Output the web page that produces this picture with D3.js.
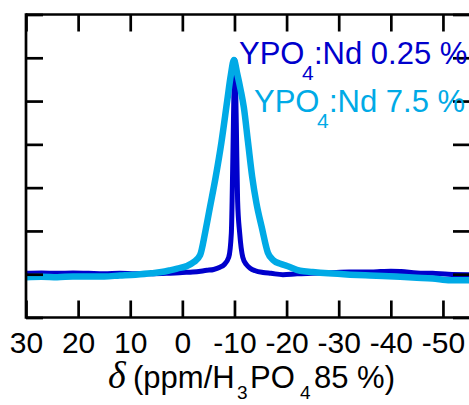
<!DOCTYPE html>
<html><head><meta charset="utf-8">
<script src="https://cdn.jsdelivr.net/npm/d3@7"></script>
<style>
html,body{margin:0;padding:0;background:#fff;}
svg{display:block;}
text{font-family:"Liberation Sans",Arial,sans-serif;}
</style></head>
<body>
<svg id="chart" width="469" height="405"></svg>
<script>
// x ticks (ppm)
const xTicks = [30, 20, 10, 0, -10, -20, -30, -40, -50];
const yTicks = [-1, 0, 1, 2, 3, 4, 5, 6];

// YPO4:Nd 0.25 % (dark blue) : chemical shift (ppm) and intensity
const darkPpm = [30, 27, 24, 21, 18, 15, 12, 9, 6, 3, 0, -2, -4.7, -6, -7.2, -8.0, -8.9, -9.4, -9.55, -9.8, -10.05, -10.35, -10.6, -11.0, -11.6, -12.3, -13, -14, -15.5, -17, -19.3, -22, -25, -28, -32, -35, -38, -40, -42, -45, -48, -51, -55];
const darkInt = [0.02, 0.03, 0.02, 0.03, 0.02, 0.01, 0.02, 0.01, 0.01, 0.02, 0.04, 0.05, 0.09, 0.11, 0.16, 0.22, 0.39, 0.95, 1.7, 3.5, 4.95, 3.5, 1.7, 0.95, 0.39, 0.22, 0.14, 0.08, 0.04, 0.02, -0.01, 0.01, 0.02, 0.03, 0.05, 0.05, 0.06, 0.07, 0.06, 0.03, 0.02, 0.0, -0.01];

// YPO4:Nd 7.5 % (light blue)
const lightPpm = [30, 27, 24, 21, 18, 15, 12, 9, 6, 4, 2.4, 1, -0.9, -2.2, -3.4, -4.4, -5.3, -6.4, -7.5, -8.6, -9.3, -9.9, -10.5, -11.2, -11.8, -12.6, -13.4, -14.2, -15.3, -16.4, -17.4, -18.8, -20.1, -22.6, -25, -28, -32.2, -36, -41.8, -45, -48, -51.4, -55];
const lightInt = [-0.07, -0.06, -0.07, -0.05, -0.05, -0.05, -0.03, -0.01, 0.02, 0.05, 0.09, 0.13, 0.19, 0.28, 0.44, 0.98, 1.55, 2.25, 3.05, 4.0, 4.6, 4.95, 4.65, 4.25, 3.85, 3.05, 2.25, 1.65, 1.05, 0.5, 0.33, 0.24, 0.19, 0.08, 0.05, 0.02, -0.01, -0.03, -0.06, -0.08, -0.1, -0.14, -0.14];

const svg = d3.select("#chart");
const x = d3.scaleLinear().domain([30, -55]).range([26, 469]);
const y = d3.scaleLinear().domain([-1, 6]).range([317.5, 14.5]);

const darkColor = "#0000cc";
const lightColor = "#00aae6";

const line = d3.line().x(d => x(d[0])).y(d => y(d[1])).curve(d3.curveMonotoneX);

svg.append("path")
  .datum(darkPpm.map((p, i) => [p, darkInt[i]]))
  .attr("d", line).attr("fill", "none")
  .attr("stroke", darkColor).attr("stroke-width", 5).attr("stroke-linejoin", "round");

svg.append("path")
  .datum(lightPpm.map((p, i) => [p, lightInt[i]]))
  .attr("d", line).attr("fill", "none")
  .attr("stroke", lightColor).attr("stroke-width", 6.5).attr("stroke-linejoin", "round");

// frame
const fw = 2.7;
svg.append("line").attr("x1", 26).attr("x2", 469).attr("y1", y(6)).attr("y2", y(6)).attr("stroke", "#000").attr("stroke-width", fw);
svg.append("line").attr("x1", 26).attr("x2", 469).attr("y1", y(-1)).attr("y2", y(-1)).attr("stroke", "#000").attr("stroke-width", fw);
svg.append("line").attr("x1", 26).attr("x2", 26).attr("y1", y(6) - fw/2).attr("y2", y(-1) + fw/2).attr("stroke", "#000").attr("stroke-width", fw);

// axes with inward ticks
const tickLen = 17;
const bottomAxis = d3.axisBottom(x).tickValues(xTicks).tickSize(-tickLen).tickFormat(d => String(d));
const gB = svg.append("g").attr("transform", `translate(0,${y(-1)})`).call(bottomAxis);
gB.select(".domain").remove();
gB.selectAll(".tick line").attr("stroke", "#000").attr("stroke-width", fw);
gB.selectAll(".tick text").attr("font-size", 30).attr("fill", "#000")
  .attr("font-family", "'Liberation Sans', Arial, sans-serif").attr("dy", 0).attr("y", 35.5);

const topAxis = d3.axisTop(x).tickValues(xTicks).tickSize(-tickLen).tickFormat("");
const gT = svg.append("g").attr("transform", `translate(0,${y(6)})`).call(topAxis);
gT.select(".domain").remove();
gT.selectAll(".tick line").attr("stroke", "#000").attr("stroke-width", fw);

const leftAxis = d3.axisLeft(y).tickValues(yTicks).tickSize(-tickLen).tickFormat("");
const gL = svg.append("g").attr("transform", `translate(26,0)`).call(leftAxis);
gL.select(".domain").remove();
gL.selectAll(".tick line").attr("stroke", "#000").attr("stroke-width", fw);

const rightAxis = d3.axisRight(y).tickValues(yTicks).tickSize(-tickLen).tickFormat("");
const gR = svg.append("g").attr("transform", `translate(470,0)`).call(rightAxis);
gR.select(".domain").remove();
gR.selectAll(".tick line").attr("stroke", "#000").attr("stroke-width", fw);

// legend texts
function legend(x0, yb, subX, restX, rest, color) {
  const t = svg.append("text").attr("fill", color).attr("font-size", 31);
  t.append("tspan").attr("x", x0).attr("y", yb).text("YPO");
  t.append("tspan").attr("x", subX).attr("y", yb + 16).attr("font-size", 21).text("4");
  t.append("tspan").attr("x", restX).attr("y", yb).text(rest);
}
legend(239, 64, 302, 314, ":Nd 0.25 %", darkColor);
legend(254, 112, 317, 329, ":Nd 7.5 %", lightColor);

// x axis title
const title = svg.append("text").attr("fill", "#000").attr("font-size", 31);
title.append("tspan").attr("x", 108).attr("y", 388).attr("font-family", "'Liberation Serif','Times New Roman',serif")
  .attr("font-style", "italic").attr("font-size", 38).text("δ");
title.append("tspan").attr("x", 133).attr("y", 388).text("(ppm/H");
title.append("tspan").attr("x", 237).attr("y", 399).attr("font-size", 19).text("3");
title.append("tspan").attr("x", 250).attr("y", 388).text("PO");
title.append("tspan").attr("x", 300).attr("y", 399).attr("font-size", 19).text("4");
title.append("tspan").attr("x", 314).attr("y", 388).text("85 %)");
</script>
</body></html>
